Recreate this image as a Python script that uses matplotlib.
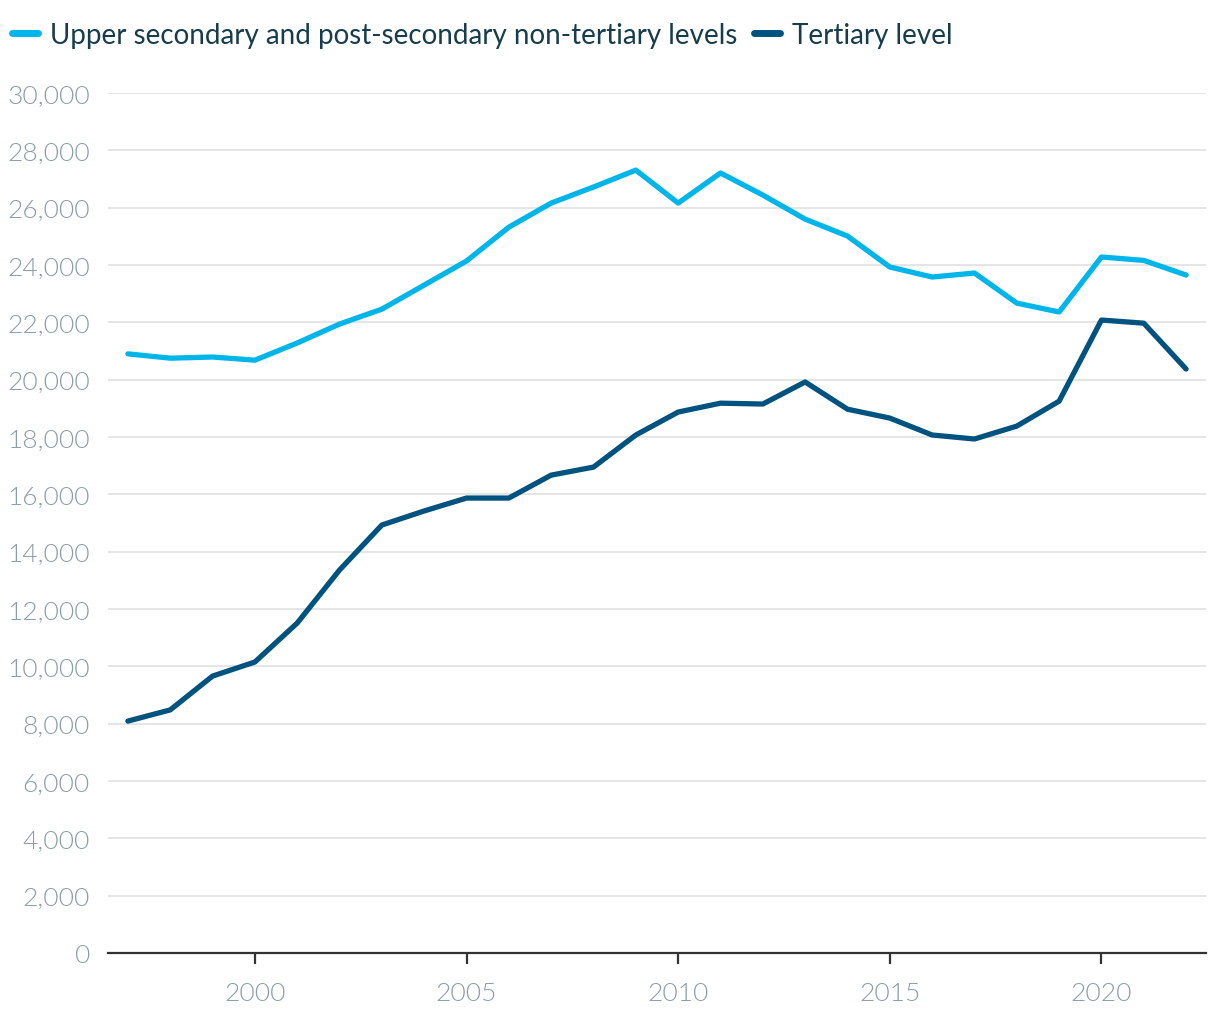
import matplotlib
matplotlib.use("Agg")
import matplotlib.pyplot as plt
from matplotlib.ticker import FuncFormatter, MultipleLocator
from matplotlib.lines import Line2D

years = list(range(1997, 2023))
upper_secondary = [20900, 20750, 20790, 20680, 21280, 21940, 22460, 23300, 24140, 25320,
                   26160, 26720, 27310, 26160, 27210, 26440, 25600, 25010, 23930, 23580,
                   23720, 22670, 22360, 24280, 24160, 23650]
tertiary = [8090, 8480, 9660, 10150, 11510, 13360, 14930, 15420, 15870, 15870,
            16670, 16950, 18070, 18870, 19180, 19150, 19920, 18970, 18660, 18070,
            17930, 18380, 19250, 22080, 21970, 20370]
series_names = ["Upper secondary and post-secondary non-tertiary levels", "Tertiary level"]
colors = ["#00b5ea", "#00527f"]

plt.rcParams['font.family'] = ['Lato', 'DejaVu Sans']

fig = plt.figure(figsize=(12.2, 10.2), dpi=100)
ax = fig.add_axes([108/1220, 1-954/1020, (1206-108)/1220, (954-94)/1020])

ax.plot(years, upper_secondary, color=colors[0], lw=3.8, solid_capstyle='round', solid_joinstyle='round', zorder=3)
ax.plot(years, tertiary, color=colors[1], lw=3.8, solid_capstyle='round', solid_joinstyle='round', zorder=3)

ax.set_xlim(1996.53, 2022.47)
ax.set_ylim(0, 30000)
ax.yaxis.set_major_locator(MultipleLocator(2000))
ax.xaxis.set_major_locator(MultipleLocator(5))
ax.yaxis.set_major_formatter(FuncFormatter(lambda v, p: f"{int(v):,}"))
ax.grid(axis='y', color='#e3e3e3', lw=1.3)
ax.set_axisbelow(True)
for s in ['top', 'right', 'left']:
    ax.spines[s].set_visible(False)
ax.spines['bottom'].set_color('#333333')
ax.spines['bottom'].set_linewidth(1.6)
ax.tick_params(axis='y', length=0, pad=13, labelsize=19, labelcolor='#8a9ea8')
ax.tick_params(axis='x', length=8, width=1.6, color='#333333', pad=12, labelsize=19, labelcolor='#8a9ea8')
for lbl in ax.get_xticklabels() + ax.get_yticklabels():
    lbl.set_fontweight(300)

handles = [Line2D([0], [0], color=c, lw=5, solid_capstyle='round') for c in colors]
leg = fig.legend(handles, series_names, loc='upper left', bbox_to_anchor=(12/1220, 1-23/1020),
                 ncol=2, frameon=False, fontsize=20, handlelength=0.95, handletextpad=0.4,
                 columnspacing=0.62, borderaxespad=0, borderpad=0)
for t in leg.get_texts():
    t.set_color('#173d4c')

fig.savefig("out.png", dpi=100)
